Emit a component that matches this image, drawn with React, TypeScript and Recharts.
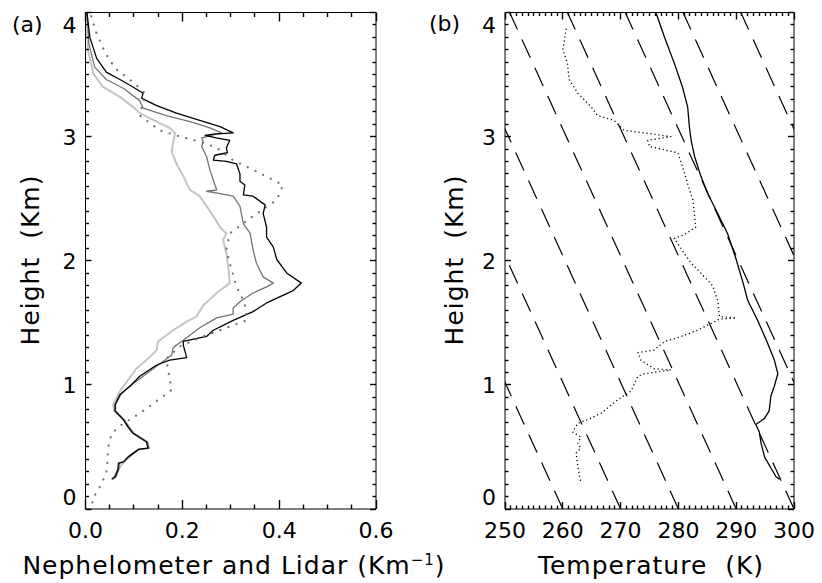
import React from "react";
import { Scatter, ScatterChart, XAxis, YAxis } from "recharts";

// panel (a): extinction profiles, [value (Km^-1), height (km)]
const lidarBlack: [number, number][] = [
  [0.003, 4.0], [0.009, 3.8], [0.023, 3.63], [0.043, 3.52], [0.071, 3.46], [0.098, 3.4],
  [0.119, 3.35], [0.116, 3.31], [0.126, 3.29], [0.147, 3.25], [0.188, 3.19], [0.236, 3.13],
  [0.278, 3.08], [0.305, 3.03], [0.264, 3.02], [0.247, 3.01], [0.27, 2.99], [0.298, 2.97],
  [0.291, 2.91], [0.293, 2.87], [0.267, 2.85], [0.264, 2.81], [0.291, 2.8], [0.312, 2.78],
  [0.319, 2.7], [0.319, 2.64], [0.329, 2.61], [0.326, 2.53], [0.346, 2.52], [0.371, 2.45],
  [0.367, 2.38], [0.374, 2.27], [0.374, 2.19], [0.388, 2.11], [0.395, 2.01], [0.416, 1.9],
  [0.446, 1.82], [0.429, 1.76], [0.374, 1.66], [0.346, 1.59], [0.305, 1.52], [0.264, 1.44],
  [0.25, 1.39], [0.202, 1.35], [0.202, 1.32], [0.209, 1.22], [0.174, 1.2], [0.147, 1.16],
  [0.112, 1.07], [0.092, 0.99], [0.071, 0.92], [0.061, 0.84], [0.061, 0.79], [0.078, 0.72],
  [0.088, 0.66], [0.098, 0.61], [0.126, 0.54], [0.129, 0.49], [0.109, 0.48], [0.095, 0.44],
  [0.088, 0.42], [0.078, 0.38], [0.068, 0.37], [0.067, 0.32], [0.061, 0.26], [0.054, 0.24],
];

const lidarGray: [number, number][] = [
  [0.003, 4.0], [0.007, 3.75], [0.019, 3.56], [0.043, 3.46], [0.078, 3.39], [0.112, 3.29],
  [0.119, 3.23], [0.167, 3.17], [0.216, 3.12], [0.257, 3.07], [0.281, 3.03], [0.24, 2.99],
  [0.243, 2.96], [0.24, 2.92], [0.25, 2.84], [0.257, 2.73], [0.264, 2.65], [0.271, 2.57],
  [0.25, 2.56], [0.278, 2.54], [0.305, 2.52], [0.319, 2.44], [0.326, 2.3], [0.34, 2.22],
  [0.346, 2.09], [0.353, 1.98], [0.367, 1.87], [0.388, 1.82], [0.374, 1.79], [0.346, 1.74],
  [0.319, 1.67], [0.305, 1.62], [0.305, 1.57], [0.271, 1.54], [0.236, 1.46], [0.202, 1.36],
  [0.181, 1.3], [0.178, 1.24], [0.154, 1.17], [0.126, 1.09], [0.098, 1.01], [0.074, 0.93],
  [0.062, 0.84], [0.062, 0.79], [0.08, 0.72], [0.09, 0.66], [0.1, 0.61], [0.128, 0.54],
  [0.131, 0.49], [0.111, 0.48], [0.097, 0.44], [0.09, 0.42], [0.08, 0.38], [0.07, 0.37],
  [0.069, 0.32], [0.063, 0.26], [0.056, 0.24],
];

const lidarLight: [number, number][] = [
  [0.003, 4.0], [0.005, 3.7], [0.016, 3.51], [0.036, 3.4], [0.071, 3.32], [0.098, 3.24],
  [0.112, 3.19], [0.147, 3.12], [0.174, 3.07], [0.185, 3.03], [0.181, 2.95], [0.178, 2.88],
  [0.188, 2.78], [0.202, 2.68], [0.216, 2.57], [0.236, 2.52], [0.25, 2.44], [0.264, 2.36],
  [0.278, 2.27], [0.291, 2.22], [0.284, 2.17], [0.291, 2.06], [0.295, 1.95], [0.298, 1.82],
  [0.271, 1.74], [0.243, 1.64], [0.229, 1.55], [0.209, 1.51], [0.181, 1.44], [0.15, 1.35],
  [0.147, 1.28], [0.126, 1.2], [0.105, 1.13], [0.088, 1.04], [0.071, 0.95], [0.057, 0.84],
  [0.06, 0.79], [0.079, 0.72], [0.089, 0.66], [0.099, 0.61], [0.128, 0.54], [0.131, 0.49],
  [0.11, 0.48], [0.096, 0.44], [0.079, 0.38], [0.068, 0.32], [0.058, 0.25],
];

const nephelometer: [number, number][] = [
  [0.012, 3.97], [0.023, 3.83], [0.04, 3.68], [0.061, 3.55], [0.098, 3.44], [0.123, 3.35],
  [0.112, 3.17], [0.154, 3.05], [0.195, 3.0], [0.236, 2.96], [0.271, 2.91], [0.305, 2.81],
  [0.353, 2.72], [0.408, 2.61], [0.395, 2.49], [0.346, 2.36], [0.298, 2.22], [0.291, 2.09],
  [0.298, 1.98], [0.312, 1.79], [0.329, 1.66], [0.333, 1.52], [0.291, 1.46], [0.236, 1.38],
  [0.195, 1.31], [0.167, 1.21], [0.171, 1.11], [0.178, 0.96], [0.147, 0.87], [0.112, 0.77],
  [0.078, 0.69], [0.054, 0.61], [0.047, 0.5], [0.045, 0.37], [0.043, 0.29], [0.03, 0.18],
  [0.016, 0.09], [0.012, 0.01],
];

// panel (b): [temperature (K), height (km)]
const airTemp: [number, number][] = [
  [276.1, 4.0], [277.6, 3.8], [279.3, 3.59], [280.7, 3.4], [281.6, 3.24], [281.9, 3.08],
  [282.2, 2.97], [282.8, 2.84], [283.9, 2.68], [285.1, 2.54], [286.8, 2.38], [288.5, 2.22],
  [290.0, 2.01], [291.2, 1.82], [292.0, 1.68], [293.7, 1.52], [295.4, 1.34], [296.6, 1.2],
  [297.2, 1.09], [296.6, 0.99], [296.0, 0.91], [295.7, 0.79], [294.9, 0.73], [293.4, 0.68],
  [294.0, 0.62], [294.3, 0.53], [294.9, 0.42], [296.0, 0.33], [296.9, 0.26], [297.5, 0.24],
];

const dewTemp: [number, number][] = [
  [260.6, 3.87], [260.0, 3.7], [260.8, 3.59], [261.1, 3.46], [262.6, 3.35], [264.9, 3.24],
  [266.0, 3.17], [268.9, 3.13], [270.6, 3.05], [274.1, 3.03], [278.7, 3.0], [274.7, 2.97],
  [275.0, 2.92], [279.9, 2.87], [280.7, 2.76], [281.6, 2.62], [282.5, 2.49], [283.0, 2.27],
  [281.0, 2.21], [279.3, 2.18], [281.0, 2.06], [282.2, 1.98], [283.9, 1.9], [285.9, 1.8],
  [286.8, 1.68], [287.1, 1.55], [290.0, 1.54], [287.1, 1.53], [283.3, 1.44], [279.9, 1.38],
  [277.6, 1.35], [275.8, 1.28], [273.0, 1.26], [273.5, 1.2], [275.8, 1.13], [278.7, 1.12],
  [274.1, 1.09], [273.0, 1.07], [271.8, 0.95], [269.5, 0.88], [266.6, 0.77], [264.3, 0.72],
  [262.6, 0.69], [261.7, 0.62], [263.1, 0.58], [262.6, 0.53], [263.1, 0.49], [262.3, 0.45],
  [262.6, 0.34], [262.9, 0.26], [263.1, 0.22],
];

// dry adiabats: temperature at 0 km and at 4 km
const adiabatBottomT = [260, 270, 280, 290, 300, 310, 320, 330];
const adiabatTopT = [220.8, 230.8, 240.8, 250.8, 260.8, 270.8, 280.8, 290.8];

// axis ticks
const xMajorA = [0, 0.2, 0.4, 0.6];
const xMajorB = [250, 260, 270, 280, 290, 300];
const yMajor = [0, 1, 2, 3, 4];

const steps = (from: number, to: number, step: number) => {
  const out: number[] = [];
  for (let i = 0; from + i * step <= to + 1e-9; i++) out.push(+(from + i * step).toFixed(4));
  return out;
};
const xTicksA = steps(0, 0.6, 0.05);
const xTicksB = steps(250, 300, 1);
const yTicks = steps(0, 4, 0.1);

const FONT = "'DejaVu Sans', sans-serif";
const has = (list: number[], v: number) => list.some((m) => Math.abs(m - v) < 1e-6);
const snap = (v: number) => Math.floor(v) + 0.5;

const pts = (rows: [number, number][]) => rows.map(([x, y]) => ({ x, y }));
const noDot = () => <g />;

type Side = "bottom" | "top" | "left" | "right";

// inward tick mark plus (optionally) its label, used as an element-form axis tick
function AxisTick(props: any) {
  const { side, majors, majorLen, minorLen, labels, fmt, payload } = props as {
    side: Side;
    majors: number[];
    majorLen: number;
    minorLen: number;
    labels?: boolean;
    fmt?: (v: number) => string;
    payload: { value: number };
  };
  const x = Number(props.x);
  const y = Number(props.y);
  const v = Number(payload.value);
  const major = has(majors, v);
  const len = major ? majorLen : minorLen;
  const sx = snap(x);
  const sy = snap(y);
  let mark;
  if (side === "bottom") mark = <line x1={sx} x2={sx} y1={y} y2={y - len} stroke="#000" strokeWidth={1.4} />;
  else if (side === "top") mark = <line x1={sx} x2={sx} y1={y} y2={y + len} stroke="#000" strokeWidth={1.4} />;
  else if (side === "left") mark = <line x1={x} x2={x + len} y1={sy} y2={sy} stroke="#000" strokeWidth={1.4} />;
  else mark = <line x1={x} x2={x - len} y1={sy} y2={sy} stroke="#000" strokeWidth={1.4} />;
  let text = null;
  if (labels && major) {
    const s = fmt ? fmt(v) : String(v);
    if (side === "bottom") {
      text = (
        <text x={x} y={y + 21} dy="0.36em" textAnchor="middle" fontSize={22} fontFamily={FONT} fill="#000">
          {s}
        </text>
      );
    } else if (side === "left") {
      const shift = v === 4 ? 12.5 : v === 0 ? -11.5 : 0;
      text = (
        <text x={x - 9} y={y + shift} dy="0.36em" textAnchor="end" fontSize={22} fontFamily={FONT} fill="#000">
          {s}
        </text>
      );
    }
  }
  return (
    <g>
      {mark}
      {text}
    </g>
  );
}

type Margin = { top: number; right: number; bottom: number; left: number };

type PanelProps = {
  left: number;
  margin: Margin;
  xDomain: [number, number];
  xTicks: number[];
  xMajors: number[];
  xMajorLen: number;
  xMinorLen: number;
  xFmt: (v: number) => string;
  children: React.ReactNode;
};

// axes are 1px thick so they still render; margins are reduced by that pixel
function Panel({ left, margin, xDomain, xTicks, xMajors, xMajorLen, xMinorLen, xFmt, children }: PanelProps) {
  const m = { top: margin.top - 1, right: margin.right - 1, bottom: margin.bottom - 1, left: margin.left - 1 };
  return (
    <div style={{ position: "absolute", left, top: 0 }}>
      <ScatterChart width={411} height={583} margin={m}>
        <XAxis
          xAxisId="b" type="number" dataKey="x" domain={xDomain} allowDataOverflow ticks={xTicks} interval={0}
          height={1} tickSize={0} tickMargin={0} stroke="#000"
          tick={<AxisTick side="bottom" majors={xMajors} majorLen={xMajorLen} minorLen={xMinorLen} labels fmt={xFmt} />}
        />
        <XAxis
          xAxisId="t" orientation="top" type="number" dataKey="x" domain={xDomain} allowDataOverflow ticks={xTicks} interval={0}
          height={1} tickSize={0} tickMargin={0} stroke="#000"
          tick={<AxisTick side="top" majors={xMajors} majorLen={xMajorLen} minorLen={xMinorLen} />}
        />
        <YAxis
          yAxisId="l" type="number" dataKey="y" domain={[0, 4]} allowDataOverflow ticks={yTicks} interval={0}
          width={1} tickSize={0} tickMargin={0} stroke="#000"
          tick={<AxisTick side="left" majors={yMajor} majorLen={6} minorLen={3.5} labels />}
        />
        <YAxis
          yAxisId="r" orientation="right" type="number" dataKey="y" domain={[0, 4]} allowDataOverflow ticks={yTicks} interval={0}
          width={1} tickSize={0} tickMargin={0} stroke="#000"
          tick={<AxisTick side="right" majors={yMajor} majorLen={6} minorLen={3.5} />}
        />
        {children}
      </ScatterChart>
    </div>
  );
}

const textStyle: React.CSSProperties = {
  position: "absolute",
  fontFamily: FONT,
  color: "#000",
  whiteSpace: "nowrap",
  textAlign: "center",
  lineHeight: "30px",
};

const titleStyle: React.CSSProperties = { ...textStyle, fontSize: 25, letterSpacing: 1 };

const seg = (stroke: string, width: number, dash?: string, cap?: "round") => ({
  stroke,
  strokeWidth: width,
  strokeDasharray: dash,
  strokeLinecap: cap,
  strokeLinejoin: "round" as const,
});

export default function App() {
  return (
    <div style={{ position: "absolute", left: 0, top: 0, width: 822, height: 583, background: "#fff", overflow: "hidden" }}>
      <Panel
        left={0}
        margin={{ top: 12.5, right: 35, bottom: 74, left: 85.5 }}
        xDomain={[0, 0.6]}
        xTicks={xTicksA}
        xMajors={xMajorA}
        xMajorLen={9}
        xMinorLen={4.5}
        xFmt={(v) => v.toFixed(1)}
      >
        <Scatter xAxisId="b" yAxisId="l" data={pts(lidarLight)} line={seg("#c4c4c4", 2)} lineType="joint" shape={noDot} isAnimationActive={false} />
        <Scatter xAxisId="b" yAxisId="l" data={pts(lidarGray)} line={seg("#747474", 1.3)} lineType="joint" shape={noDot} isAnimationActive={false} />
        <Scatter xAxisId="b" yAxisId="l" data={pts(lidarBlack)} line={seg("#000", 1.3)} lineType="joint" shape={noDot} isAnimationActive={false} />
        <Scatter xAxisId="b" yAxisId="l" data={pts(nephelometer)} line={seg("#707070", 2.2, "0.1 8.5", "round")} lineType="joint" shape={noDot} isAnimationActive={false} />
      </Panel>
      <Panel
        left={411}
        margin={{ top: 12.5, right: 28, bottom: 74, left: 94 }}
        xDomain={[250, 300]}
        xTicks={xTicksB}
        xMajors={xMajorB}
        xMajorLen={7}
        xMinorLen={3.5}
        xFmt={(v) => String(v)}
      >
        {adiabatBottomT.map((t0, i) => (
          <Scatter
            key={t0}
            xAxisId="b"
            yAxisId="l"
            data={[{ x: t0, y: 0 }, { x: adiabatTopT[i], y: 4 }]}
            line={seg("#000", 1.2, "20 11")}
            lineType="joint"
            shape={noDot}
            isAnimationActive={false}
          />
        ))}
        <Scatter xAxisId="b" yAxisId="l" data={pts(dewTemp)} line={seg("#000", 1.3, "1.2 2.8")} lineType="joint" shape={noDot} isAnimationActive={false} />
        <Scatter xAxisId="b" yAxisId="l" data={pts(airTemp)} line={seg("#000", 1.3)} lineType="joint" shape={noDot} isAnimationActive={false} />
      </Panel>

      <div style={{ ...textStyle, left: 12, top: 10, fontSize: 22, textAlign: "left" }}>(a)</div>
      <div style={{ ...textStyle, left: 429, top: 9, fontSize: 22, textAlign: "left" }}>(b)</div>

      <div style={{ ...titleStyle, left: 31 - 150, top: 260 - 15, width: 300, transform: "rotate(-90deg)" }}>
        Height&nbsp; (Km)
      </div>
      <div style={{ ...titleStyle, left: 455 - 150, top: 260 - 15, width: 300, transform: "rotate(-90deg)" }}>
        Height&nbsp; (Km)
      </div>
      <div style={{ ...titleStyle, left: 234 - 250, top: 551, width: 500 }}>
        Nephelometer and Lidar (Km<sup style={{ fontSize: 15, lineHeight: 0 }}>−1</sup>)
      </div>
      <div style={{ ...titleStyle, left: 651 - 150, top: 551, width: 300 }}>
        Temperature&nbsp; (K)
      </div>
    </div>
  );
}
